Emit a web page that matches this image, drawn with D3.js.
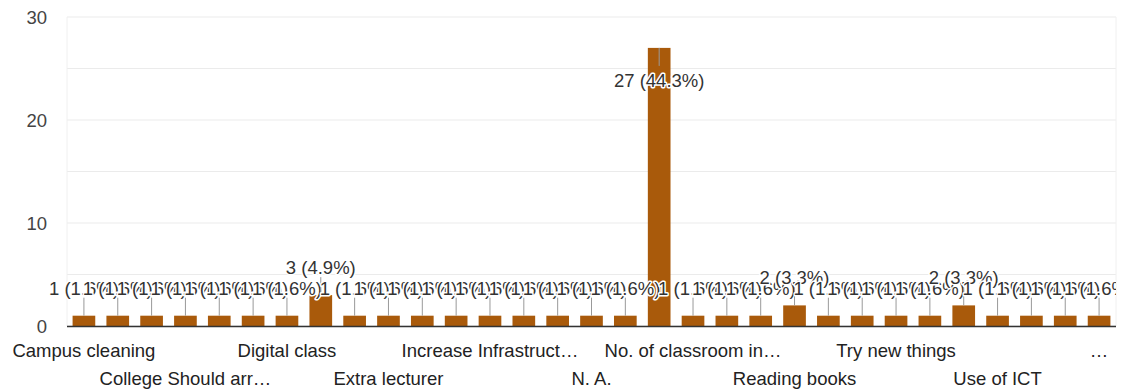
<!DOCTYPE html>
<html>
<head>
<meta charset="utf-8">
<script src="https://cdn.jsdelivr.net/npm/d3@7"></script>
<style>
  body { margin: 0; background: #fff; }
  text { font-family: Arial, "Liberation Sans", sans-serif; }
</style>
</head>
<body>
<div id="chart"></div>
<script>
// Responses per suggestion (Google Forms style bar chart)
const categories = [
  "Campus cleaning", "Canteen facility", "Classroom cleanliness",
  "College Should arrange more events", "Computer lab", "Cultural programs",
  "Digital class", "Discipline", "Drinking water", "Extra lecturer", "Good",
  "Good teaching", "Increase Infrastructure facilities", "Library facility",
  "More practicals", "N. A.", "NA", "No", "No. of classroom increase", "Nothing",
  "Parking facility", "Reading books", "Sports facility", "Timetable",
  "Try new things", "Use of Computer", "Use of Digital tools", "Use of ICT",
  "Use of library", "Wi-Fi facility", "Youth activities and workshops"
];
const counts = [
  1, 1, 1, 1, 1, 1, 1, 3, 1, 1, 1, 1, 1, 1, 1, 1,
  1, 27, 1, 1, 1, 2, 1, 1, 1, 1, 2, 1, 1, 1, 1
];
// x labels as the chart shows them (every third category, truncated)
const tickLabels = [
  "Campus cleaning", "College Should arr\u2026", "Digital class", "Extra lecturer",
  "Increase Infrastruct\u2026", "N. A.", "No. of classroom in\u2026", "Reading books",
  "Try new things", "Use of ICT", "\u2026"
];
const yTicks = [0, 10, 20, 30];
const yGrid = [0, 5, 10, 15, 20, 25, 30];

const total = d3.sum(counts);
const data = categories.map((c, i) => ({ name: c, value: counts[i] }));

const W = 1134, H = 391;
const margin = { top: 17, right: 18, bottom: 65, left: 67 };
const width = W - margin.left - margin.right;
const height = H - margin.top - margin.bottom;

const svg = d3.select("#chart").append("svg")
  .attr("width", W)
  .attr("height", H);

// annotations get cut at the right edge of the plot
svg.append("defs").append("clipPath")
  .attr("id", "annClip")
  .append("rect")
  .attr("x", -margin.left)
  .attr("y", -margin.top)
  .attr("width", width + margin.left)
  .attr("height", height + margin.top);

const g = svg.append("g")
  .attr("transform", `translate(${margin.left},${margin.top})`);

const x = d3.scaleBand()
  .domain(categories)
  .range([0, width])
  .paddingInner(0.33)
  .paddingOuter(0.165);

const y = d3.scaleLinear()
  .domain([0, 30])
  .range([height, 0]);

// gridlines
g.selectAll(".grid")
  .data(yGrid)
  .enter().append("line")
  .attr("x1", 0).attr("x2", width)
  .attr("y1", d => y(d)).attr("y2", d => y(d))
  .attr("stroke", "#ebebeb")
  .attr("stroke-width", 1);

// chart area side edges
[0, width].forEach(xx => {
  g.append("line")
    .attr("x1", xx).attr("x2", xx)
    .attr("y1", y(30)).attr("y2", y(0))
    .attr("stroke", "#f0f0f0");
});

// y tick labels
g.selectAll(".ytick")
  .data(yTicks)
  .enter().append("text")
  .attr("x", -20)
  .attr("y", d => y(d))
  .attr("dy", "0.36em")
  .attr("text-anchor", "end")
  .style("font-size", "18.5px")
  .style("fill", "#444")
  .text(d => d);

// bars
g.selectAll(".bar")
  .data(data)
  .enter().append("rect")
  .attr("x", d => x(d.name))
  .attr("y", d => y(d.value))
  .attr("width", x.bandwidth())
  .attr("height", d => height - y(d.value))
  .attr("fill", "#a95a0b");

// baseline
g.append("line")
  .attr("x1", 0).attr("x2", width)
  .attr("y1", height + 0.5).attr("y2", height + 0.5)
  .attr("stroke", "#333")
  .attr("stroke-width", 1.5);

// annotations: stem + label, drawn in order so later ones cover earlier
const ann = g.append("g").attr("clip-path", "url(#annClip)");
const stem = 18;
data.forEach(d => {
  const cx = x(d.name) + x.bandwidth() / 2;
  const top = y(d.value);
  const inside = top - stem - 18 < 0;
  const y2 = inside ? top + stem : top - stem;
  ann.append("line")
    .attr("x1", cx).attr("x2", cx)
    .attr("y1", top).attr("y2", y2)
    .attr("stroke", "#999")
    .attr("stroke-width", 1);
  const pct = (d.value / total * 100).toFixed(1);
  ann.append("text")
    .attr("x", cx)
    .attr("y", inside ? y2 + 21 : y2 - 3)
    .attr("text-anchor", "middle")
    .style("font-size", "18.5px")
    .style("fill", "#333")
    .style("stroke", "#fff")
    .style("stroke-width", 3)
    .style("paint-order", "stroke")
    .style("stroke-linejoin", "round")
    .text(`${d.value} (${pct}%)`);
});

// x labels: every third category, alternating rows
tickLabels.forEach((t, k) => {
  const i = k * 3;
  const cx = x(categories[i]) + x.bandwidth() / 2;
  g.append("text")
    .attr("x", cx)
    .attr("y", height + (k % 2 === 0 ? 31 : 59))
    .attr("text-anchor", "middle")
    .style("font-size", "18.5px")
    .style("fill", "#222")
    .text(t);
});
</script>
</body>
</html>
